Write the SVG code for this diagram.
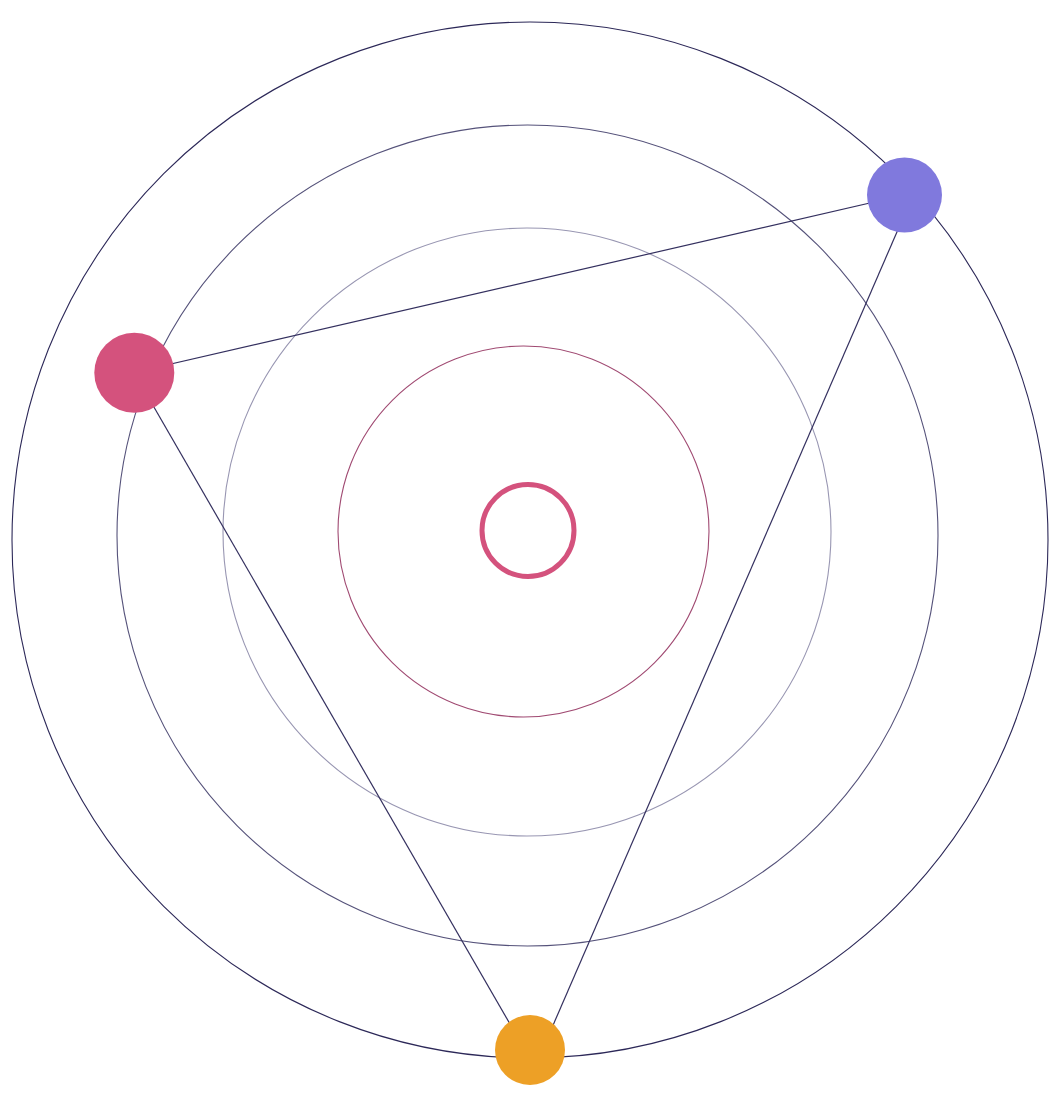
<svg xmlns="http://www.w3.org/2000/svg" width="1064" height="1097" viewBox="0 0 1064 1097">
<style>
.ring{fill:none}
.link{stroke:#34305f;stroke-width:1.2;fill:none}
</style>
<rect width="1064" height="1097" fill="#ffffff"/>
<g id="rings">
<circle class="ring" cx="530" cy="540" r="518" stroke="#2c2858" stroke-width="1.1"/>
<circle class="ring" cx="527.5" cy="535.5" r="410.5" stroke="#55527a" stroke-width="1.1"/>
<circle class="ring" cx="527" cy="532" r="304" stroke="#9896b2" stroke-width="1.1"/>
<circle class="ring" cx="523.5" cy="531.5" r="185.5" stroke="#a04a72" stroke-width="1.1"/>
</g>
<g id="connectors">
<line class="link" x1="134" y1="372.5" x2="904.5" y2="195"/>
<line class="link" x1="134" y1="372.5" x2="525" y2="1050"/>
<line class="link" x1="913" y1="195" x2="542.3" y2="1050"/>
</g>
<g id="center"><circle cx="528" cy="530.5" r="46" fill="none" stroke="#d4527d" stroke-width="5"/></g>
<g id="node-purple"><circle cx="904.5" cy="195" r="37.5" fill="#8079dd"/></g>
<g id="node-pink"><circle cx="134.3" cy="372.7" r="40" fill="#d4527d"/></g>
<g id="node-orange"><circle cx="530" cy="1050" r="35" fill="#eda026"/></g>
</svg>
